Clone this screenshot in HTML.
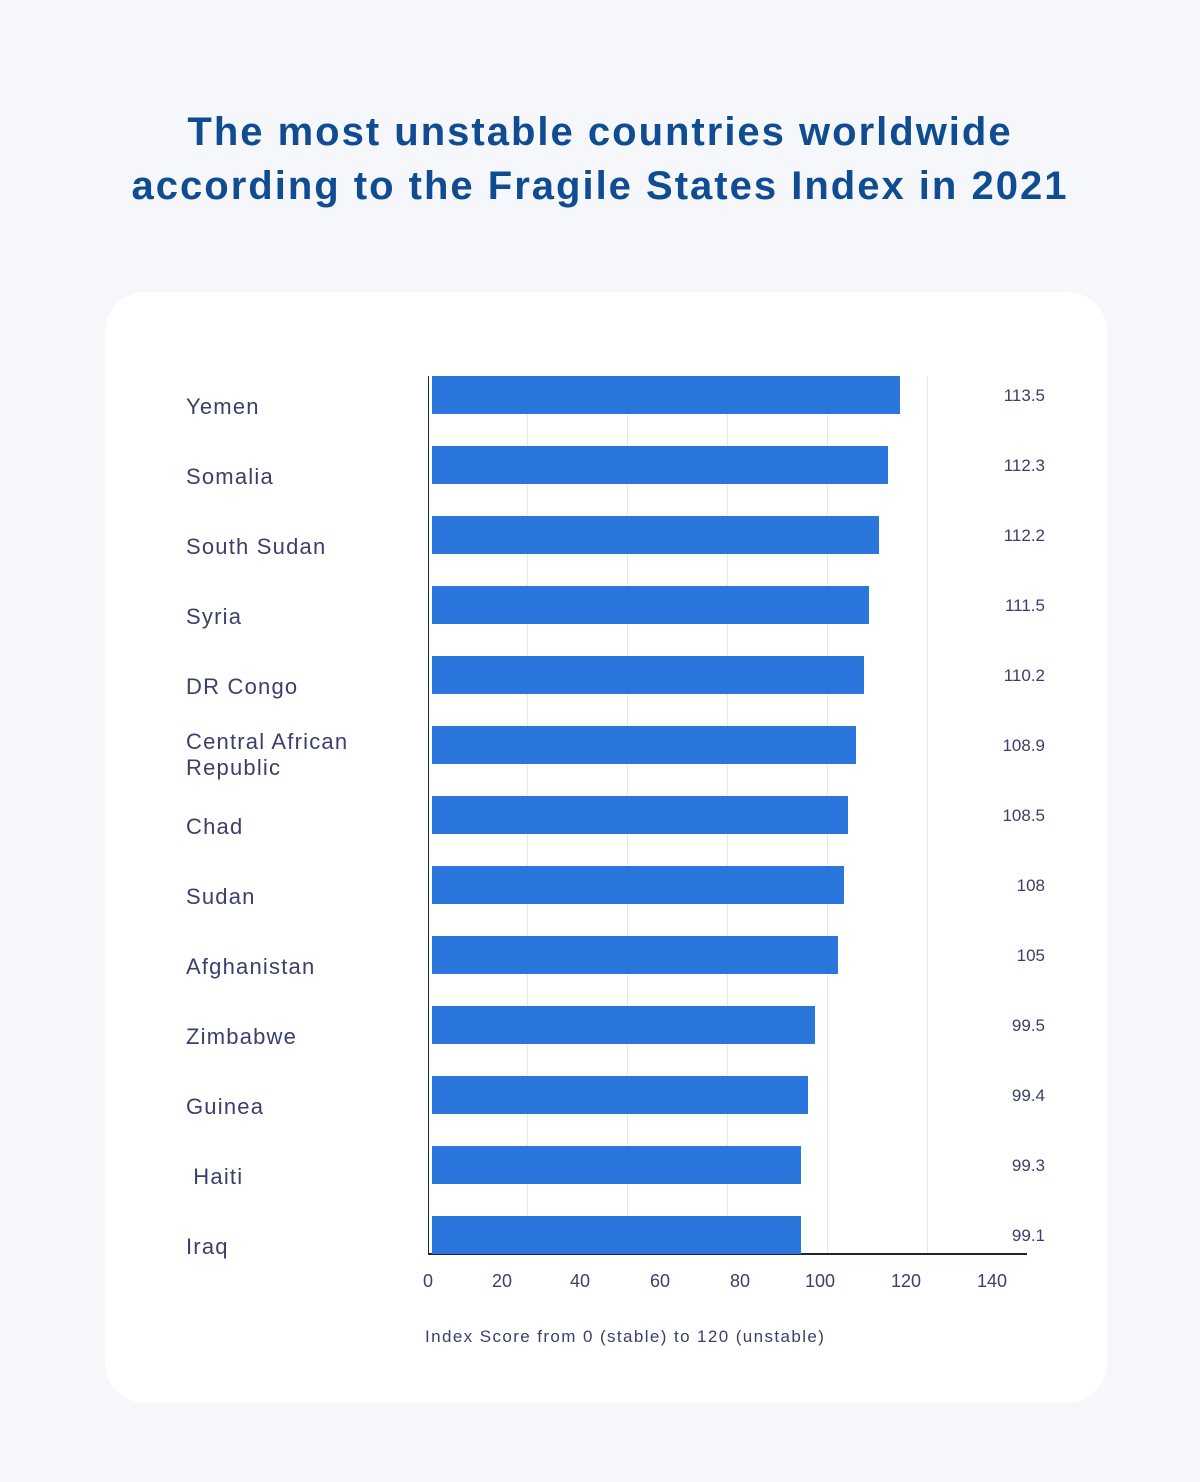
<!DOCTYPE html>
<html><head><meta charset="utf-8"><style>
body{margin:0;width:1200px;height:1482px;background:#f5f7fb;font-family:"Liberation Sans",sans-serif;position:relative;overflow:hidden}
.t{position:absolute;left:0;width:1200px;text-align:center;color:#0f4c91;font-size:40px;font-weight:bold;line-height:54px;letter-spacing:2px}
.card{position:absolute;left:105px;top:292px;width:1002px;height:1111px;background:#fff;border-radius:40px}
.a{position:absolute}
.lab{position:absolute;left:186px;color:#3a3f6b;font-size:22px;line-height:26px;letter-spacing:1.2px}
.bar{position:absolute;left:432px;height:38px;background:#2a76dd}
.val{position:absolute;right:155px;color:#3a3f6b;font-size:17px;width:80px;text-align:right}
.g{position:absolute;top:376px;height:878px;width:1px;background:#e8e8ec}
.tk{position:absolute;top:1271px;color:#3a3f6b;font-size:18px;width:60px;text-align:center}
</style></head><body>
<div class="t" style="top:105px">The most unstable countries worldwide</div>
<div class="t" style="top:159px">according to the Fragile States Index in 2021</div>
<div class="card"></div>
<div class="g" style="left:527px"></div><div class="g" style="left:627px"></div><div class="g" style="left:727px"></div><div class="g" style="left:827px"></div><div class="g" style="left:927px"></div>
<div class="a" style="left:428px;top:376px;width:1px;height:879px;background:#1c2340"></div>
<div class="a" style="left:428px;top:1253px;width:599px;height:2px;background:#1c2340"></div>

<div class="lab" style="top:394px">Yemen</div><div class="bar" style="top:376px;width:468px"></div><div class="val" style="top:386px">113.5</div>
<div class="lab" style="top:464px">Somalia</div><div class="bar" style="top:446px;width:456px"></div><div class="val" style="top:456px">112.3</div>
<div class="lab" style="top:534px">South Sudan</div><div class="bar" style="top:516px;width:447px"></div><div class="val" style="top:526px">112.2</div>
<div class="lab" style="top:604px">Syria</div><div class="bar" style="top:586px;width:437px"></div><div class="val" style="top:596px">111.5</div>
<div class="lab" style="top:674px">DR Congo</div><div class="bar" style="top:656px;width:432px"></div><div class="val" style="top:666px">110.2</div>
<div class="lab" style="top:729px">Central African<br>Republic</div><div class="bar" style="top:726px;width:424px"></div><div class="val" style="top:736px">108.9</div>
<div class="lab" style="top:814px">Chad</div><div class="bar" style="top:796px;width:416px"></div><div class="val" style="top:806px">108.5</div>
<div class="lab" style="top:884px">Sudan</div><div class="bar" style="top:866px;width:412px"></div><div class="val" style="top:876px">108</div>
<div class="lab" style="top:954px">Afghanistan</div><div class="bar" style="top:936px;width:406px"></div><div class="val" style="top:946px">105</div>
<div class="lab" style="top:1024px">Zimbabwe</div><div class="bar" style="top:1006px;width:383px"></div><div class="val" style="top:1016px">99.5</div>
<div class="lab" style="top:1094px">Guinea</div><div class="bar" style="top:1076px;width:376px"></div><div class="val" style="top:1086px">99.4</div>
<div class="lab" style="top:1164px">&nbsp;Haiti</div><div class="bar" style="top:1146px;width:369px"></div><div class="val" style="top:1156px">99.3</div>
<div class="lab" style="top:1234px">Iraq</div><div class="bar" style="top:1216px;width:369px"></div><div class="val" style="top:1226px">99.1</div>

<div class="tk" style="left:398px">0</div><div class="tk" style="left:472px">20</div><div class="tk" style="left:550px">40</div><div class="tk" style="left:630px">60</div><div class="tk" style="left:710px">80</div><div class="tk" style="left:790px">100</div><div class="tk" style="left:876px">120</div><div class="tk" style="left:962px">140</div>
<div class="a" style="left:425px;top:1327px;color:#3a3f6b;font-size:17px;letter-spacing:1.4px">Index Score from 0 (stable) to 120 (unstable)</div>
</body></html>
